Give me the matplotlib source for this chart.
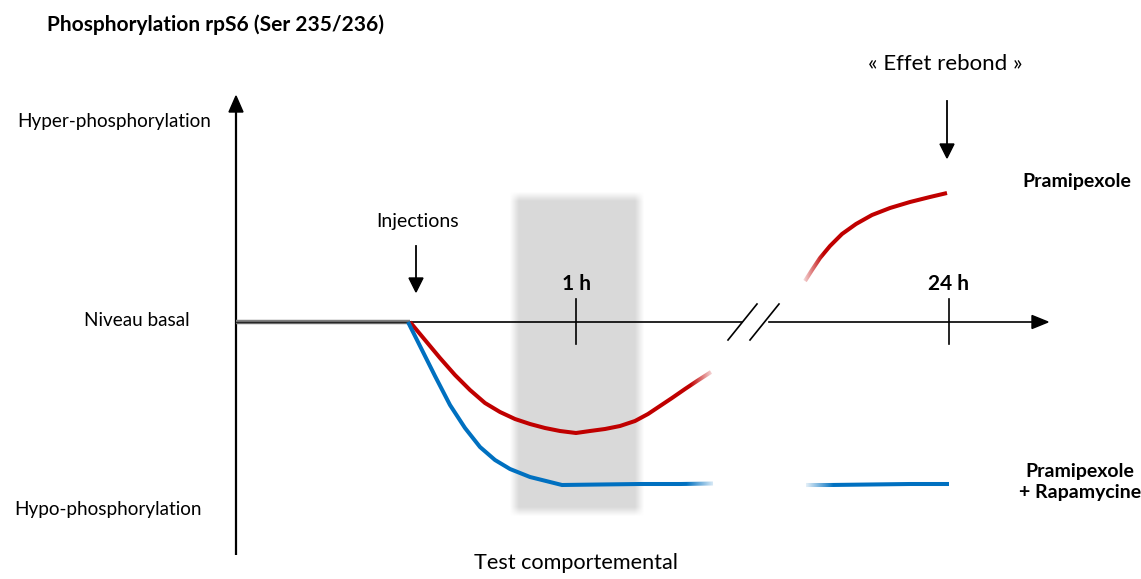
import numpy as np
import matplotlib
matplotlib.use("Agg")
import matplotlib.pyplot as plt
from matplotlib.patches import Polygon
from matplotlib.colors import to_rgba

# Schematic layout coordinates (x: time axis position, y: phosphorylation level, y grows downward)
axis_origin = (236, 322)
x_axis_end = 1048
y_axis_top = 96
y_axis_bottom = 555
injection_x = 410
tick_positions = [576, 949]
tick_labels = ["1 h", "24 h"]
axis_break = (742, 769)

level_labels = ["Hyper-phosphorylation", "Niveau basal", "Hypo-phosphorylation"]
level_label_y = [121, 321, 509]

# Pramipexole alone (red), before and after the time-axis break
red_early_x = [410, 425, 440, 455, 470, 485, 500, 515, 530, 545, 560, 576, 590, 605, 620, 635, 648, 660, 672, 685, 697, 711]
red_early_y = [322, 340, 358, 375, 390, 403, 412, 419, 424, 428, 431, 433, 431, 429, 426, 421, 414, 406, 398, 389, 381, 372]
red_late_x = [805, 812, 820, 830, 842, 856, 872, 890, 910, 930, 947]
red_late_y = [281, 270, 258, 246, 234, 224, 215, 208, 202, 197, 193]

# Pramipexole + Rapamycine (blue)
blue_early_x = [408, 420, 435, 450, 465, 480, 495, 510, 530, 562, 600, 640, 680, 713]
blue_early_y = [322, 346, 376, 405, 428, 447, 460, 469, 477, 485, 484.5, 484, 484, 483.5]
blue_late_x = [806, 830, 870, 910, 949]
blue_late_y = [485, 485, 484.5, 484, 484]

RED = "#c00000"
BLUE = "#0070c0"

fig = plt.figure(figsize=(11.41, 5.79), dpi=100)
ax = fig.add_axes([0, 0, 1, 1])
ax.set_xlim(0, 1141)
ax.set_ylim(579, 0)
ax.axis("off")

FONT = "Lato"

def ramp(v, n, soft):
    d = np.minimum(v, n - v)
    return np.clip(d / soft, 0, 1)

# Behavioural test window: grey band with soft edges
bx0, bx1, by0, by1 = 510, 644, 192, 516
nx, ny = int(bx1 - bx0), int(by1 - by0)
alpha = np.outer(ramp(np.arange(ny) + 0.5, ny, 9.0), ramp(np.arange(nx) + 0.5, nx, 9.0))
img = np.zeros((ny, nx, 4))
img[..., :3] = np.array(to_rgba("#d9d9d9")[:3])
img[..., 3] = alpha
ax.imshow(img, extent=(bx0, bx1, by1, by0), interpolation="bilinear", zorder=1, aspect="auto")

# Axes
ox, oy = axis_origin
ax.plot([ox, ox], [y_axis_bottom, y_axis_top + 14], color="black", lw=1.6, zorder=3, solid_capstyle="butt")
ax.add_patch(Polygon([[ox - 7, y_axis_top + 16], [ox + 7, y_axis_top + 16], [ox, y_axis_top]],
                     closed=True, color="black", zorder=3))
ax.plot([ox, axis_break[0]], [oy, oy], color="black", lw=1.2, zorder=3)
ax.plot([axis_break[1], x_axis_end - 14], [oy, oy], color="black", lw=1.2, zorder=3)
ax.add_patch(Polygon([[x_axis_end - 16, oy - 6.5], [x_axis_end - 16, oy + 6.5], [x_axis_end, oy]],
                     closed=True, color="black", zorder=3))
for dx in (0, 22):
    ax.plot([728 + dx, 757 + dx], [339 + 1, 303 + 1], color="black", lw=1.2, zorder=3)

# Basal level before injection
ax.plot([ox, injection_x], [oy, oy], color="#7f7f7f", lw=3.2, zorder=4, solid_capstyle="butt")
ax.plot([ox, injection_x], [oy, oy], color="#262626", lw=1.0, zorder=4)

# Time ticks
for tx, tl in zip(tick_positions, tick_labels):
    ax.plot([tx, tx], [299, 344], color="black", lw=1.2, zorder=3)
    ax.text(tx, 284, tl, ha="center", va="center", fontsize=15, fontweight="bold",
            family=FONT, zorder=5)

# Curves
for xs_, ys_, c in [(red_early_x, red_early_y, RED), (red_late_x, red_late_y, RED),
                    (blue_early_x, blue_early_y, BLUE), (blue_late_x, blue_late_y, BLUE)]:
    ax.plot(xs_, ys_, color=c, lw=2.9, solid_joinstyle="round", solid_capstyle="butt", zorder=4)

def fade_mask(x0, x1, y0, y1, towards_right=True):
    """White veil whose opacity ramps across x, so a curve end dissolves into the background."""
    n = 64
    a = np.linspace(0, 1, n)
    if not towards_right:
        a = a[::-1]
    veil = np.ones((2, n, 4))
    veil[..., 3] = a[None, :]
    ax.imshow(veil, extent=(x0, x1, y1, y0), interpolation="bilinear", zorder=5, aspect="auto")

fade_mask(690, 716, 362, 396, towards_right=True)
fade_mask(800, 824, 250, 292, towards_right=False)
fade_mask(686, 718, 476, 492, towards_right=True)
fade_mask(803, 834, 476, 492, towards_right=False)

# Arrows
for axx, ytop, ybot in [(416, 246, 292), (947, 101, 158)]:
    ax.plot([axx, axx], [ytop, ybot - 12], color="black", lw=1.3, zorder=3)
    ax.add_patch(Polygon([[axx - 7, ybot - 14], [axx + 7, ybot - 14], [axx, ybot]],
                         closed=True, color="black", zorder=3))

# Texts
ax.text(47, 25, "Phosphorylation rpS6 (Ser 235/236)", ha="left", va="center",
        fontsize=15, fontweight="bold", family=FONT)
ax.text(17, level_label_y[0], level_labels[0], ha="left", va="center", fontsize=13.6, family=FONT)
ax.text(137, level_label_y[1], level_labels[1], ha="center", va="center", fontsize=13.6, family=FONT)
ax.text(14, level_label_y[2], level_labels[2], ha="left", va="center", fontsize=13.6, family=FONT)
ax.text(418, 221, "Injections", ha="center", va="center", fontsize=14, family=FONT)
ax.text(945, 64, "« Effet rebond »", ha="center", va="center", fontsize=16, family=FONT)
ax.text(1077, 182, "Pramipexole", ha="center", va="center", fontsize=14, fontweight="bold", family=FONT)
ax.text(1080, 482, "Pramipexole\n+ Rapamycine", ha="center", va="center", fontsize=14,
        fontweight="bold", family=FONT, linespacing=1.3)
ax.text(576, 563, "Test comportemental", ha="center", va="center", fontsize=15.6, family=FONT)

fig.savefig("out.png", dpi=100)
